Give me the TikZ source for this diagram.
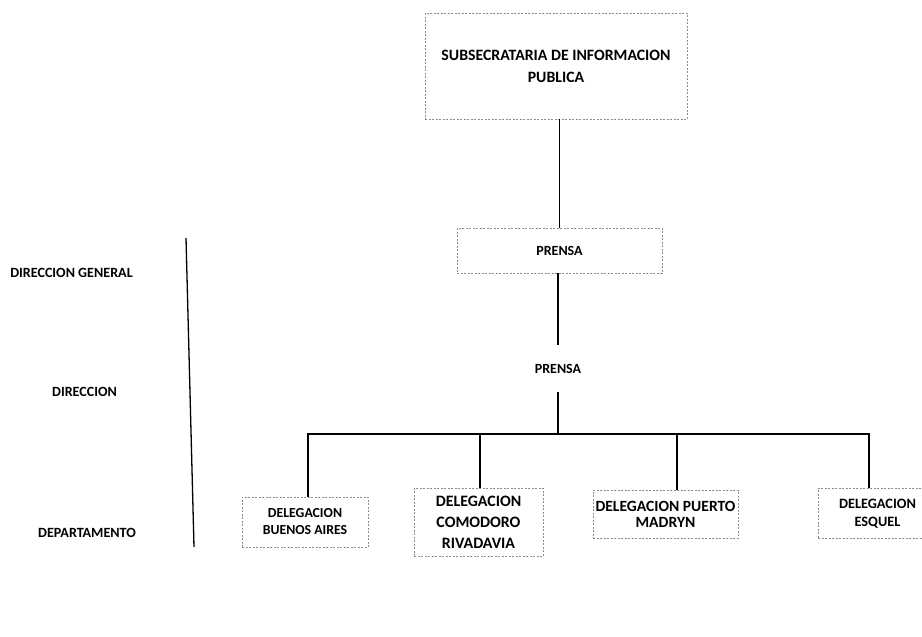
\documentclass[tikz,border=0pt]{standalone}
\usepackage{fontspec}
\setmainfont{Carlito}
\begin{document}
\begin{tikzpicture}[x=1pt,y=-1pt,
  orgbox/.style={draw=black!45, line width=0.6pt, dash pattern=on 2pt off 1.5pt, inner sep=0pt, align=center, font=\bfseries},
  plainbox/.style={inner sep=0pt, align=center, font=\bfseries},
  conn/.style={line width=1.3pt, black},
  lvl/.style={font=\bfseries\fontsize{14.1}{16}\selectfont, inner sep=0pt}]
\useasboundingbox[fill=white] (0,0) rectangle (922,637);

\node[orgbox, minimum width=262pt, minimum height=106pt, font=\bfseries\fontsize{15.8}{22}\selectfont] (top) at (556,66) {SUBSECRATARIA DE INFORMACION\\PUBLICA};
\node[orgbox, minimum width=205pt, minimum height=45pt, font=\bfseries\fontsize{14}{16}\selectfont] (p1) at (559.5,250.5) {PRENSA};
\node[plainbox, minimum width=205pt, minimum height=47pt, font=\bfseries\fontsize{14}{16}\selectfont] (p2) at (558,368.5) {PRENSA};

\node[orgbox, minimum width=126pt, minimum height=50pt, font=\bfseries\fontsize{13.8}{17}\selectfont] (ba) at (305,522) {DELEGACION\\BUENOS AIRES};
\node[orgbox, minimum width=129pt, minimum height=68pt, font=\bfseries\fontsize{15.9}{21}\selectfont] (com) at (478.5,522) {DELEGACION\\COMODORO\\RIVADAVIA};
\node[orgbox, minimum width=145pt, minimum height=48pt, font=\bfseries\fontsize{15.6}{16}\selectfont] (pm) at (665.5,514) {DELEGACION PUERTO\\MADRYN};
\node[orgbox, minimum width=107pt, minimum height=50pt] (esq) at (871.5,513) {};
\node[plainbox, font=\bfseries\fontsize{14.3}{18}\selectfont] (esqt) at (877.5,514) {DELEGACION\\ESQUEL};

\node[lvl] (dg) at (71.5,273) {DIRECCION GENERAL};
\node[lvl] (dir) at (84.5,392) {DIRECCION};
\node[lvl] (dep) at (87,533) {DEPARTAMENTO};
\coordinate (lt) at (186,238);
\coordinate (lb) at (194,547);
\draw[conn] (lt) -- (lb);

\draw[conn] (p1.north |- top.south) -- (p1.north);
\draw[conn] (p1.south -| p2.north) -- (p2.north);
\coordinate (bus) at (558,434);
\draw[conn] (p2.south) -- (bus);
\draw[conn] ([xshift=3pt]ba.north) |- (bus) -| ([xshift=-2.5pt]esq.north);
\draw[conn] ([xshift=1.5pt]com.north) -- ([xshift=1.5pt]com.north |- bus);
\draw[conn] ([xshift=11.5pt]pm.north) -- ([xshift=11.5pt]pm.north |- bus);
\end{tikzpicture}
\end{document}
